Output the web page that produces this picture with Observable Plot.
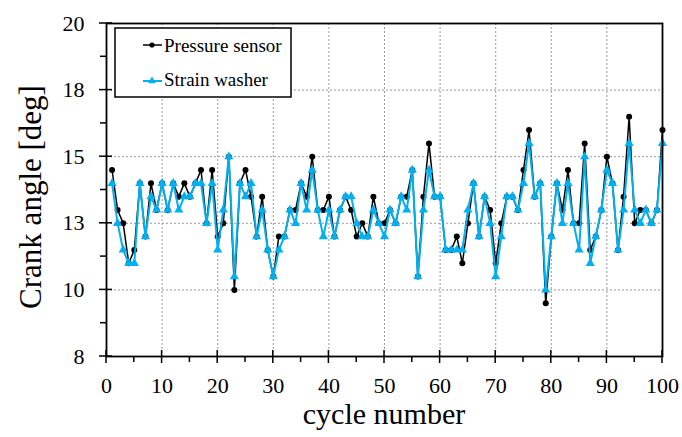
<!DOCTYPE html>
<html><head><meta charset="utf-8">
<script src="https://cdn.jsdelivr.net/npm/d3@7"></script>
<script src="https://cdn.jsdelivr.net/npm/@observablehq/plot@0.6"></script>
<style>body{margin:0;background:#fff} #chart{width:682px;height:437px}</style>
</head><body><div id="chart"></div>
<script>
const cycles = d3.range(1, 101);
const pressureSensor = [
  14.5, 13.0, 12.5, 11.0, 11.5, 14.0, 12.0, 14.0, 13.0, 14.0,
  13.0, 14.0, 13.5, 14.0, 13.5, 14.0, 14.5, 12.5, 14.5, 12.0,
  12.5, 15.0, 10.0, 14.0, 14.5, 13.5, 12.0, 13.5, 11.5, 10.5,
  12.0, 12.0, 13.0, 13.0, 14.0, 13.5, 15.0, 13.0, 13.0, 13.5,
  12.0, 13.0, 13.5, 13.0, 12.0, 12.5, 12.0, 13.5, 12.5, 12.5,
  13.0, 12.5, 13.5, 13.5, 14.5, 10.5, 13.5, 15.5, 13.5, 13.5,
  11.5, 11.5, 12.0, 11.0, 12.5, 14.0, 12.0, 13.5, 13.0, 11.0,
  12.5, 13.5, 13.5, 13.0, 14.5, 16.0, 13.5, 14.0, 9.5, 12.0,
  14.0, 13.0, 14.5, 12.5, 12.5, 15.5, 11.5, 12.0, 13.0, 15.0,
  14.0, 11.5, 13.5, 16.5, 12.5, 13.0, 13.0, 12.5, 13.0, 16.0
];
const strainWasher = [
  14.0, 12.5, 11.5, 11.0, 11.0, 14.0, 12.0, 13.5, 13.0, 14.0,
  13.0, 14.0, 13.0, 13.5, 13.5, 14.0, 14.0, 12.5, 14.0, 11.5,
  13.0, 15.0, 10.5, 14.0, 13.5, 14.0, 12.0, 13.0, 11.5, 10.5,
  11.5, 12.0, 13.0, 12.5, 14.0, 13.0, 14.5, 13.0, 12.0, 13.0,
  12.0, 13.0, 13.5, 13.5, 12.5, 12.0, 12.0, 13.0, 12.5, 12.0,
  13.0, 12.5, 13.5, 13.0, 14.5, 10.5, 13.0, 14.5, 13.5, 13.5,
  11.5, 11.5, 11.5, 11.5, 13.0, 14.0, 12.0, 13.5, 12.5, 10.5,
  12.0, 13.5, 13.5, 13.0, 14.0, 15.5, 13.5, 14.0, 10.0, 12.0,
  14.0, 12.5, 14.0, 12.5, 11.5, 15.0, 11.0, 12.0, 13.0, 14.5,
  14.0, 11.5, 13.0, 15.5, 13.0, 12.5, 13.0, 12.5, 13.0, 15.5
];
const seriesNames = ["Pressure sensor", "Strain washer"];
const seriesColors = ["#000000", "#00B0F0"];
const xTicks = d3.range(0, 101, 10);
const xMinorTicks = d3.range(5, 100, 10);
const yTicks = [7.5, 10, 12.5, 15, 17.5, 20];
const yMinorTicks = [8.75, 11.25, 13.75, 16.25, 18.75];
const xTitle = "cycle number";
const yTitle = "Crank angle [deg]";

const pData = cycles.map((c, i) => ({cycle: c, value: pressureSensor[i]}));
const sData = cycles.map((c, i) => ({cycle: c, value: strainWasher[i]}));
const font = "'Liberation Serif','Times New Roman',serif";
const gridStyle = {stroke: "#9a9a9a", strokeOpacity: 1, strokeDasharray: "2,2", strokeWidth: 1};
const dotR = 3, triR = 3.4;

const plot = Plot.plot({
  width: 682, height: 437,
  marginLeft: 106, marginRight: 20, marginTop: 23, marginBottom: 81,
  style: {fontFamily: font, background: "#fff", color: "#000", overflow: "visible"},
  x: {domain: [0, 100]},
  y: {domain: [7.5, 20]},
  marks: [
    Plot.gridX(xTicks, gridStyle),
    Plot.gridY(yTicks, gridStyle),
    Plot.axisX(xTicks, {tickSize: 0, tickPadding: 21, fontSize: 22, label: null, tickFormat: d => String(d)}),
    Plot.axisY(yTicks, {tickSize: 0, tickPadding: 22, fontSize: 22, label: null, tickFormat: d => String(Math.round(d))}),
    Plot.line(pData, {x: "cycle", y: "value", stroke: seriesColors[0], strokeWidth: 1.5}),
    Plot.dot(pData, {x: "cycle", y: "value", r: dotR, fill: seriesColors[0], symbol: "circle"}),
    Plot.line(sData, {x: "cycle", y: "value", stroke: seriesColors[1], strokeWidth: 2}),
    Plot.dot(sData, {x: "cycle", y: "value", r: triR, fill: seriesColors[1], symbol: "triangle"}),
    Plot.frame({stroke: "#000", strokeWidth: 1.8})
  ]
});
document.getElementById("chart").appendChild(plot);

const svg = d3.select(plot);
const sx = plot.scale("x"), sy = plot.scale("y");
const x0 = sx.apply(0), yb = sy.apply(7.5);
const tg = svg.append("g").attr("stroke", "#000").attr("stroke-width", 1.5);
xTicks.forEach(v => tg.append("line").attr("x1", sx.apply(v)).attr("x2", sx.apply(v)).attr("y1", yb - 6).attr("y2", yb + 7));
xMinorTicks.forEach(v => tg.append("line").attr("x1", sx.apply(v)).attr("x2", sx.apply(v)).attr("y1", yb).attr("y2", yb + 6));
yTicks.forEach(v => tg.append("line").attr("y1", sy.apply(v)).attr("y2", sy.apply(v)).attr("x1", x0 - 7).attr("x2", x0 + 6));
yMinorTicks.forEach(v => tg.append("line").attr("y1", sy.apply(v)).attr("y2", sy.apply(v)).attr("x1", x0 - 6).attr("x2", x0));

svg.append("text").attr("x", (sx.apply(0) + sx.apply(100)) / 2).attr("y", 424)
  .attr("text-anchor", "middle").attr("font-family", font).attr("font-size", 30).attr("fill", "#000").text(xTitle);
svg.append("text").attr("transform", "translate(41,197) rotate(-90)")
  .attr("text-anchor", "middle").attr("font-family", font).attr("font-size", 31).attr("fill", "#000").text(yTitle);

// legend
const lg = svg.append("g");
lg.append("rect").attr("x", 115).attr("y", 28).attr("width", 176).attr("height", 69)
  .attr("fill", "#fff").attr("stroke", "#000").attr("stroke-width", 1.5);
const rows = [{y: 45, base: 52}, {y: 81, base: 86}];
rows.forEach((r, i) => {
  lg.append("line").attr("x1", 143).attr("x2", 162).attr("y1", r.y).attr("y2", r.y)
    .attr("stroke", seriesColors[i]).attr("stroke-width", i ? 2 : 1.5);
  if (i === 0) lg.append("circle").attr("cx", 152).attr("cy", r.y).attr("r", 2.6).attr("fill", seriesColors[0]);
  else lg.append("path").attr("transform", `translate(152,${r.y})`)
    .attr("d", d3.symbol(d3.symbolTriangle, Math.PI * 2.9 * 2.9)()).attr("fill", seriesColors[1]);
  lg.append("text").attr("x", 164).attr("y", r.base).attr("text-anchor", "start")
    .attr("font-family", font).attr("font-size", 19).attr("fill", "#000").text(seriesNames[i]);
});
</script></body></html>
